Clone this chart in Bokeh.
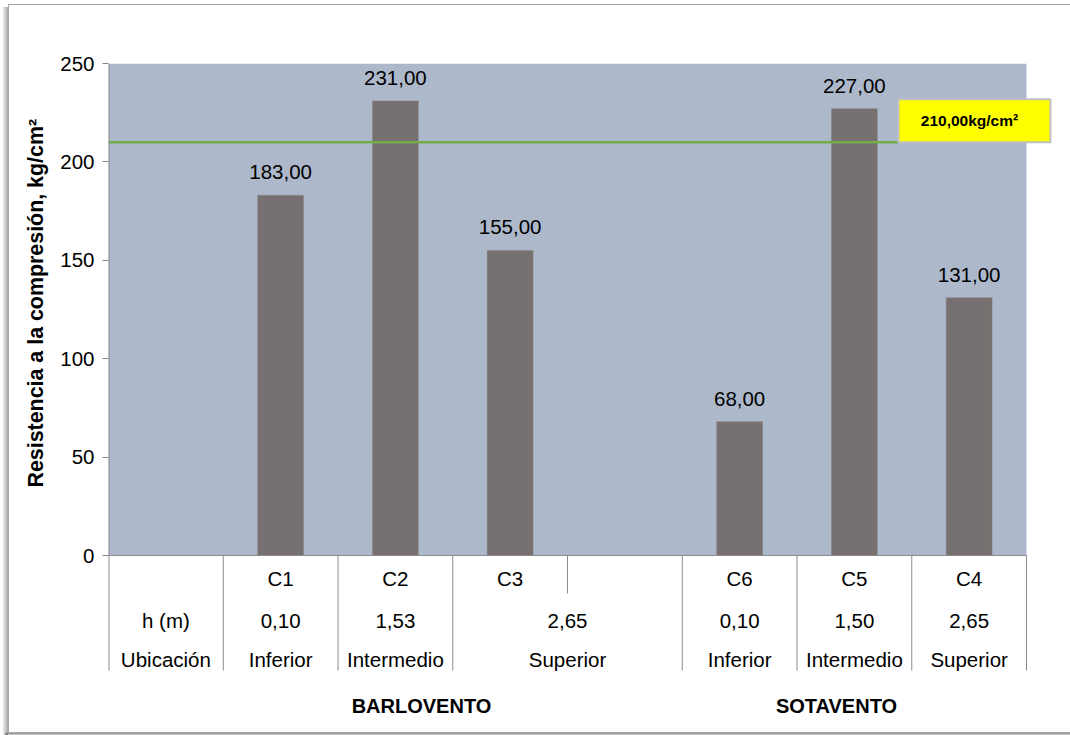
from bokeh.plotting import figure
from bokeh.models import Range1d, FixedTicker, Title
from bokeh.core.properties import value
from bokeh.embed import file_html
from bokeh.resources import INLINE

# Core data
cores = ["C1", "C2", "C3", "C6", "C5", "C4"]
slot = [1, 2, 3, 5, 6, 7]
resistencia = [183, 231, 155, 68, 227, 131]
altura = ["0,10", "1,53", "2,65", "0,10", "1,50", "2,65"]
ubicacion = ["Inferior", "Intermedio", "Superior", "Inferior", "Intermedio", "Superior"]
grupos = ["BARLOVENTO", "SOTAVENTO"]
limite = 210
y_ticks = [0, 50, 100, 150, 200, 250]
y_titulo = "Resistencia a la compresión, kg/cm²"

FONT = value("Liberation Sans")
TXT = "20.5px"
PX_PER_UNIT = 492 / 250.0      # vertical scale of the plot area
SLOT_PX = 918 / 8.0            # width of one category slot

def fmt(v):
    return f"{v:.2f}".replace(".", ",")

def ydown(px):
    # data y for a pixel distance below the zero line
    return -px / PX_PER_UNIT

p = figure(width=1070, height=735, output_backend="svg", toolbar_location=None,
           x_range=Range1d(0, 952 / SLOT_PX), y_range=Range1d(ydown(170), 250),
           min_border_left=108, min_border_right=10, min_border_top=63,
           min_border_bottom=10)
p.outline_line_color = None
p.background_fill_color = None
p.border_fill_color = None
p.xaxis.visible = False
p.xgrid.visible = False
p.ygrid.visible = False

# chart frame with a soft shadow, drawn behind the transparent canvas
solid = "linear-gradient(#a6a6a6, #a6a6a6)"
p.styles = {
    "background-color": "white",
    "background-image": ", ".join([
        solid, solid, solid,
        "linear-gradient(to right, rgba(0,0,0,0), rgba(0,0,0,0.35))",
        "linear-gradient(to bottom, rgba(0,0,0,0.45), rgba(0,0,0,0.05))",
    ]),
    "background-size": "1062px 1px, 1px 729px, 1062px 1px, 6px 729px, 1065px 3px",
    "background-position": "8px 4px, 8px 4px, 8px 732px, 2px 7px, 5px 733px",
    "background-repeat": "no-repeat",
}

ax = p.yaxis[0]
ax.ticker = FixedTicker(ticks=y_ticks)
ax.axis_line_color = None
ax.major_tick_in = 0
ax.major_tick_out = 6
ax.major_tick_line_color = "#868686"
ax.minor_tick_line_color = None
ax.major_label_text_font = "Liberation Sans"
ax.major_label_text_font_size = TXT
ax.major_label_text_color = "#000000"
ax.major_label_standoff = 8

# vertical axis title, starting level with the bottom of the 0-250 span
p.add_layout(Title(text=y_titulo, align="left", offset=238, standoff=20,
                   text_font="Liberation Sans", text_font_size="21.4px",
                   text_font_style="bold", text_color="#000000"), "left")

# plot area background
p.quad(left=[0], right=[8], bottom=[0], top=[250], fill_color="#adb8cb", line_color=None)

# bars
centers = [s + 0.5 for s in slot]
p.vbar(x=centers, top=resistencia, bottom=0, width=0.4,
       fill_color="#767170", line_color="#8a8584", line_width=0.5)

# value labels
p.text(x=centers, y=resistencia, text=[fmt(v) for v in resistencia],
       text_font=FONT, text_font_size=TXT, text_color="#000000",
       text_align="center", text_baseline="middle", y_offset=-23)

# reference line and its tag
tag_left = (898 - 108) / SLOT_PX
tag_right = (1050 - 108) / SLOT_PX
p.line(x=[0, tag_left], y=[limite, limite], line_color="#72ad4a", line_width=2.5)
p.quad(left=[tag_left], right=[tag_right], bottom=[limite], top=[limite + 43 / PX_PER_UNIT],
       fill_color="#ffff00", line_color="#c0c0c0", line_width=2)
p.text(x=[(tag_left + tag_right) / 2 - 0.044], y=[limite + 21.5 / PX_PER_UNIT],
       text=[fmt(limite) + "kg/cm²"], text_font=FONT, text_font_size="15.5px",
       text_font_style="bold", text_color="#000000",
       text_align="center", text_baseline="middle")

# axis line and table grid
line_col = "#8c8c8c"
p.segment(x0=[0], y0=[ydown(115)], x1=[0], y1=[250], line_color=line_col, line_width=2)
p.segment(x0=[0], y0=[0], x1=[8], y1=[0], line_color=line_col, line_width=1)
full = [1, 2, 3, 5, 6, 7, 8]
p.segment(x0=full, y0=[ydown(115)] * len(full), x1=full, y1=[0] * len(full),
          line_color=line_col, line_width=1)
p.segment(x0=[4], y0=[ydown(38)], x1=[4], y1=[0], line_color=line_col, line_width=1)

# table texts
merged = [c if s != 3 else 4.0 for s, c in zip(slot, centers)]
row_style = dict(text_font=FONT, text_font_size=TXT, text_color="#000000",
                 text_align="center", text_baseline="middle")
p.text(x=centers, y=[ydown(23)] * 6, text=cores, **row_style)
p.text(x=[0.5] + merged, y=[ydown(65)] * 7, text=["h (m)"] + altura, **row_style)
p.text(x=[0.5] + merged, y=[ydown(104)] * 7, text=["Ubicación"] + ubicacion, **row_style)
p.text(x=[(421 - 108) / SLOT_PX, (836 - 108) / SLOT_PX], y=[ydown(150)] * 2, text=grupos,
       text_font=FONT, text_font_size="20px", text_font_style="bold", text_color="#000000",
       text_align="center", text_baseline="middle")

open("out.html", "w").write(file_html(p, INLINE))
